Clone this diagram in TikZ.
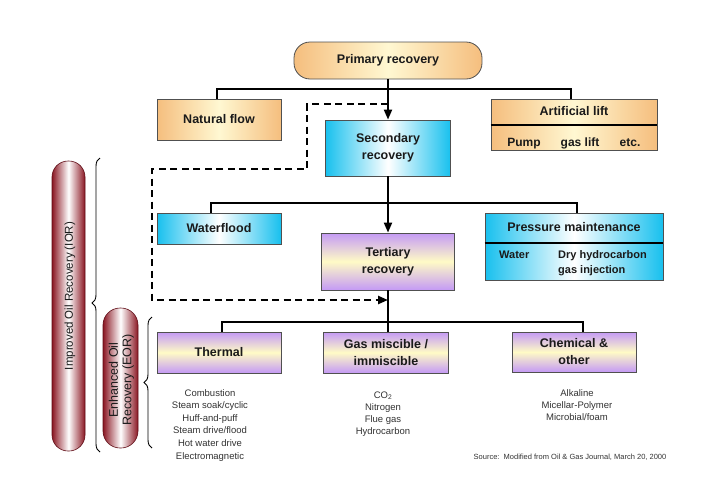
\documentclass[tikz,border=0pt]{standalone}
\usepackage{fontspec}
\setmainfont{Liberation Sans}
\usetikzlibrary{arrows.meta,decorations.pathreplacing}
\definecolor{orE}{HTML}{F5BE7E}
\definecolor{orC}{HTML}{FFF8D2}
\definecolor{blE}{HTML}{18C0EE}
\definecolor{blC}{HTML}{FFFFFF}
\definecolor{puE}{HTML}{C49AF5}
\definecolor{puC}{HTML}{FFFBC6}
\definecolor{pillE}{HTML}{8A1622}
\definecolor{bord}{HTML}{505050}
\definecolor{txt}{HTML}{1A1A1A}
\begin{document}
\begin{tikzpicture}[x=1pt,y=-1pt,
  box/.style={draw=bord, line width=0.8pt, inner sep=0pt, align=center, text=txt,
    font=\fontsize{12.5}{17}\selectfont\bfseries},
  orbox/.style={box, left color=orE, right color=orE, middle color=orC},
  blbox/.style={box, left color=blE, right color=blE, middle color=blC},
  pubox/.style={box, top color=puE, bottom color=puE, middle color=puC},
  sublbl/.style={inner sep=0pt, text=txt, font=\fontsize{12}{14}\selectfont\bfseries},
  pmlbl/.style={inner sep=0pt, text=txt, font=\fontsize{11}{14}\selectfont\bfseries},
  listtxt/.style={inner sep=0pt, align=center, text=black!80, anchor=north},
  divider/.style={line width=2pt, black},
  arrowln/.style={line width=2pt, -{Triangle[length=10pt,width=8pt]}},
  plainln/.style={line width=2pt},
  busln/.style={line width=1.3pt},
  dashln/.style={line width=2.4pt, dash pattern=on 7pt off 4.5pt, -{Triangle[length=10pt,width=8pt]}},
  pill/.style={draw=pillE!70!black, line width=0.6pt, left color=pillE, right color=pillE, middle color=white, inner sep=0pt},
  pilltxt/.style={rotate=90, inner sep=0pt, align=center, text=txt},
  bracedec/.style={decorate, line width=0.9pt, decoration={brace, amplitude=8pt, aspect=#1}}
]
\useasboundingbox[fill=white] (0,0) rectangle (705,498);

% top level
\node[orbox, rounded corners=16pt, minimum width=188pt, minimum height=37pt] (prim) at (388,60.5) {Primary recovery};
\node[orbox, minimum width=124pt, minimum height=41pt] (nat) at (219,119.5) {Natural flow};
\node[orbox, minimum width=166pt, minimum height=51pt] (art) at (574,124.5) {};
\coordinate (artdiv) at (574,125);
\draw[divider] (art.west |- artdiv) -- (art.east |- artdiv);
\node[sublbl, font=\fontsize{12.5}{14}\selectfont\bfseries] (artT) at (574,111) {Artificial lift};
\node[sublbl, anchor=base] (pump) at (524,146.5) {Pump};
\node[sublbl, anchor=base] (gasl) at (580,146.5) {gas lift};
\node[sublbl, anchor=base] (etc) at (630,146.5) {etc.};

% second level
\node[blbox, minimum width=125pt, minimum height=56pt] (sec) at (388,148) {Secondary\\recovery};
\node[blbox, minimum width=124pt, minimum height=31pt] (wat) at (219,228.5) {Waterflood};
\node[blbox, minimum width=178pt, minimum height=67pt] (pm) at (574,246.5) {};
\coordinate (pmdiv) at (574,243);
\draw[divider] (pm.west |- pmdiv) -- (pm.east |- pmdiv);
\node[sublbl, font=\fontsize{12.5}{14}\selectfont\bfseries] (pmT) at (574,227) {Pressure maintenance};
\node[pmlbl, anchor=base west] (water) at (499,258) {Water};
\node[pmlbl, anchor=base west] (dry) at (558,258) {Dry hydrocarbon};
\node[pmlbl, anchor=base west] (gasinj) at (558,273) {gas injection};

% tertiary
\node[pubox, minimum width=133pt, minimum height=57pt] (ter) at (388,261.5) {Tertiary\\recovery};

% EOR methods
\node[pubox, minimum width=124pt, minimum height=41pt] (therm) at (219,352.5) {Thermal};
\node[pubox, minimum width=125pt, minimum height=41pt] (gasm) at (386,352.5) {Gas miscible /\\immiscible};
\node[pubox, minimum width=124pt, minimum height=40pt] (chem) at (574,352) {Chemical \&\\other};

\node[listtxt, font=\fontsize{9.5}{12.6}\selectfont] (thl) at (210,389) {Combustion\\Steam soak/cyclic\\Huff-and-puff\\Steam drive/flood\\Hot water drive\\Electromagnetic};
\node[listtxt, font=\fontsize{9.5}{12}\selectfont] (gml) at (383,391.5) {CO\textsubscript{2}\\Nitrogen\\Flue gas\\Hydrocarbon};
\node[listtxt, font=\fontsize{9.5}{12}\selectfont] (chl) at (577,389) {Alkaline\\Micellar-Polymer\\Microbial/foam};

\node[inner sep=0pt, text=black!80, font=\fontsize{7.5}{9}\selectfont] (src) at (570,457) {Source:\ \ Modified from Oil \& Gas Journal, March 20, 2000};

% connectors
\coordinate (b1) at (388,89);
\coordinate (b2) at (388,203);
\coordinate (b3) at (388,322);
\draw[busln] ([xshift=-2pt]nat.north) |- (b1) -| ([xshift=-3pt]art.north);
\draw[busln] ([xshift=-8pt]wat.north) |- (b2) -| ([xshift=3pt]pm.north);
\draw[busln] ([xshift=3pt]therm.north) |- (b3) -| ([xshift=9pt]chem.north);
\draw[arrowln] (prim.south) -- (sec.north);
\draw[arrowln] (sec.south) -- (ter.north);
\draw[plainln] (ter.south) -- (ter.south |- gasm.north);

% dashed path
\coordinate (d0) at (388,104);
\coordinate (d1) at (307,104);
\coordinate (d2) at (307,169);
\coordinate (d3) at (152,169);
\coordinate (d4) at (152,300);
\coordinate (d5) at (388,300);
\draw[dashln] (d0) -- (d1) -- (d2) -- (d3) -- (d4) -- (d5);

% pills and braces
\node[pill, rounded corners=16pt, minimum width=33pt, minimum height=290pt] (ior) at (68.5,306) {};
\node[pilltxt, font=\fontsize{11.5}{13}\selectfont] (iort) at (70,296) {Improved Oil Recovery (IOR)};
\node[pill, rounded corners=17pt, minimum width=35pt, minimum height=140pt] (eor) at (120.5,378) {};
\node[pilltxt, font=\fontsize{12.5}{13.5}\selectfont] (eort) at (121.5,380) {Enhanced Oil\\Recovery (EOR)};

\coordinate (br1a) at (100,452);
\coordinate (br1b) at (100,158);
\coordinate (br2a) at (152,448);
\coordinate (br2b) at (152,317);
\draw[bracedec=0.507] (br1a) -- (br1b);
\draw[bracedec=0.5] (br2a) -- (br2b);
\end{tikzpicture}
\end{document}
